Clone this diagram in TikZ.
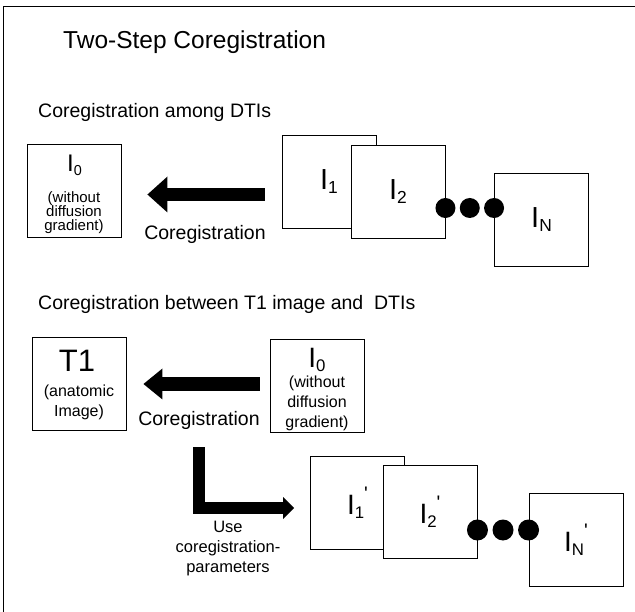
\documentclass[tikz,border=0pt]{standalone}
\usepackage{fontspec}
\setmainfont{Liberation Sans}
\usetikzlibrary{arrows.meta,calc}
\newcommand{\lowidx}[1]{\raisebox{-0.13em}{\scalebox{0.6}{#1}}}
\newcommand{\tick}{\raisebox{0.5em}{\scalebox{0.7}{\textquotesingle}}}

\begin{document}
\begin{tikzpicture}[x=1pt, y=-1pt,
    imgbox/.style={draw, line width=0.9pt, fill=white, minimum width=94pt,
      minimum height=93pt, inner sep=0pt, font=\fontsize{29}{29}\selectfont},
    biglab/.style={anchor=base, inner sep=0pt},
    note/.style={align=center, inner sep=0pt, font=\fontsize{16}{20}\selectfont},
    heading/.style={anchor=base west, inner sep=0pt, font=\fontsize{19.5}{20}\selectfont},
    caption/.style={anchor=base, inner sep=0pt, font=\fontsize{19.5}{20}\selectfont},
    blob/.style={circle, fill, inner sep=0pt, minimum size=20pt},
    fat/.style={line width=13pt, -{Triangle[length=20pt, width=36pt, line width=0pt]}}]
  \useasboundingbox (0,0) rectangle (635,612);
  \draw[line width=0.9pt] (3,612) -- (3,6) -- (635,6);

  \node[anchor=base west, inner sep=0pt, font=\fontsize{24.5}{25}\selectfont] (ttl) at (63,49) {Two-Step Coregistration};

  % among DTIs
  \node[heading] (hA) at (38,118) {Coregistration among DTIs};
  \node[imgbox] (i0a) at (74,190.5) {};
  \node[biglab, font=\fontsize{24}{24}\selectfont] (i0alab) at (74.5,172) {I\lowidx{0}};
  \node[note, font=\fontsize{15}{14}\selectfont] (i0anote) at (74,213) {(without\\diffusion\\gradient)};
  \node[imgbox] (i1) at (329,181.5) {I\lowidx{1}};
  \node[imgbox] (i2) at (398,191.5) {I\lowidx{2}};
  \node[imgbox] (iN) at (541.5,219.5) {I\lowidx{N}};
  \coordinate (rowB) at (0,208);
  \node[blob] (dA1) at (i2.east |- rowB) {};
  \node[blob] (dA3) at (iN.west |- rowB) {};
  \node[blob] (dA2) at ($(dA1)!0.5!(dA3)$) {};
  \coordinate (rowA) at (0,194.5);
  \draw[fat, shorten <=17pt, shorten >=26pt] (i1.west |- rowA) -- (i0a.east |- rowA);
  \node[caption] (regA) at (205,240) {Coregistration};

  % T1 and DTIs
  \node[heading] (hB) at (38,310) {Coregistration between T1 image and\ \ DTIs};
  \node[imgbox] (t1) at (79,383.5) {};
  \node[biglab, font=\fontsize{31}{31}\selectfont] (t1lab) at (77,372) {T1};
  \node[note] (t1note) at (79,402) {(anatomic\\Image)};
  \node[imgbox] (i0b) at (317,385.5) {};
  \node[biglab, font=\fontsize{28}{28}\selectfont] (i0blab) at (317,368) {I\lowidx{0}};
  \node[note] (i0bnote) at (317,403) {(without\\diffusion\\gradient)};
  \coordinate (rowC) at (0,384);
  \draw[line width=14pt, -{Triangle[length=19pt, width=31pt, line width=0pt]},
    shorten <=10pt, shorten >=17pt] (i0b.west |- rowC) -- (t1.east |- rowC);
  \node[caption] (regB) at (199,425) {Coregistration};

  \node[imgbox, font=\fontsize{28}{28}\selectfont] (i1p) at (357.5,503) {I\lowidx{1}\tick};
  \node[imgbox, font=\fontsize{28}{28}\selectfont] (i2p) at (430,511.5) {I\lowidx{2}\tick};
  \node[imgbox, font=\fontsize{28}{28}\selectfont] (iNp) at (576,539.5) {I\lowidx{N}\tick};
  \coordinate (rowD) at (0,530);
  \node[blob, minimum size=21pt] (dB1) at (i2p.east |- rowD) {};
  \node[blob, minimum size=21pt] (dB3) at (iNp.west |- rowD) {};
  \node[blob, minimum size=21pt] (dB2) at ($(dB1)!0.5!(dB3)$) {};
  \coordinate (rowE) at (0,508);
  \draw[line width=12pt, line join=miter, -{Triangle[length=11pt, width=22pt, line width=0pt]},
    shorten <=18pt, shorten >=16pt] (regB.south) |- (i1p.west |- rowE);
  \node[note, font=\fontsize{16.5}{20}\selectfont] (usep) at (228,549) {Use\\coregistration-\\parameters};
\end{tikzpicture}
\end{document}
